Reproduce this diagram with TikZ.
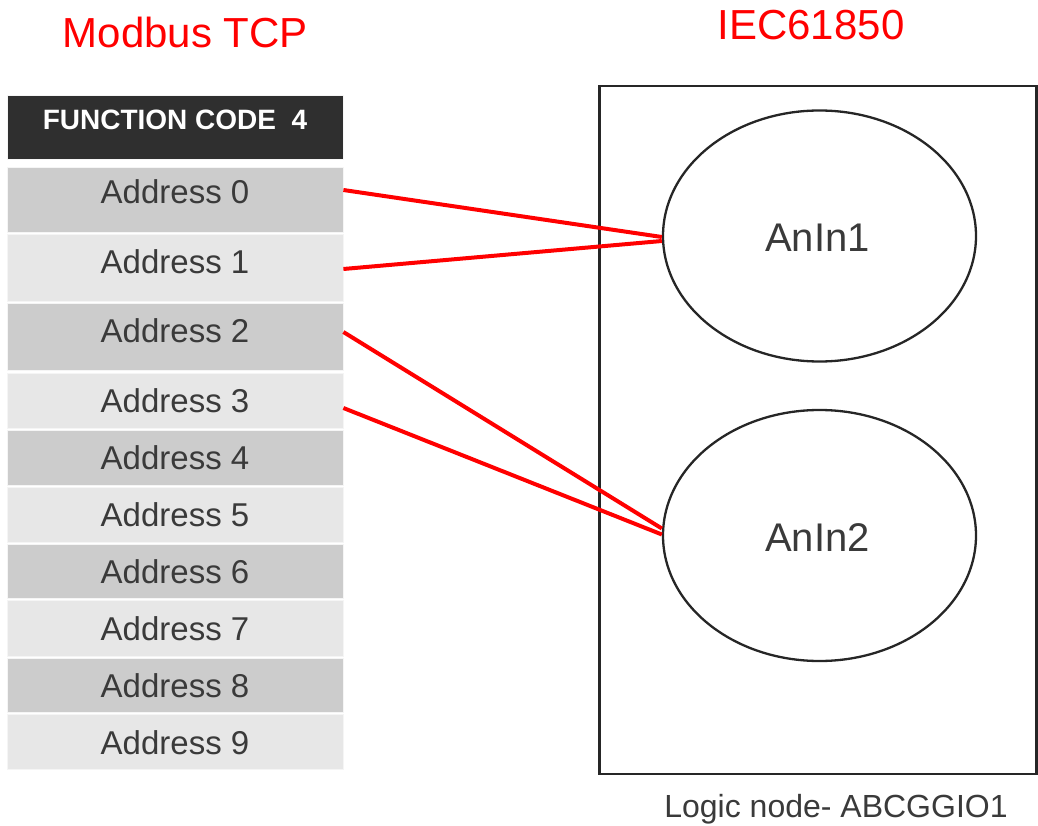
\documentclass[tikz,border=0pt]{standalone}
\usepackage{fontspec}
\setmainfont{Liberation Sans}
\usetikzlibrary{shapes.geometric}
\definecolor{hdr}{HTML}{2F2F2F}
\definecolor{dk}{HTML}{CCCCCC}
\definecolor{lt}{HTML}{E7E7E7}
\definecolor{txt}{HTML}{3A3A3A}
\definecolor{rd}{HTML}{FF0000}
\tikzset{
  rowbox/.style={draw=white!96!black, line width=0.8pt, minimum width=336pt, inner sep=0pt},
  addr/.style={anchor=base, text=txt, font=\fontsize{33}{38}\selectfont, inner sep=0pt},
  title/.style={text=rd, font=\fontsize{42}{48}\selectfont, anchor=base, inner sep=0pt},
  link/.style={draw=rd, line width=4pt},
  ell/.style={ellipse, draw=black!85, line width=2.3pt, minimum width=313pt, minimum height=251pt, inner sep=0pt},
}
\begin{document}
\begin{tikzpicture}[x=1pt,y=-1pt]
\useasboundingbox (0,0) rectangle (1038,826);
% titles
\node[title] (t1) at (185.5,48) {Modbus TCP};
\node[title] (t2) at (811,40) {IEC61850};
% header
\node[rowbox, fill=hdr, minimum height=64pt] (hd) at (175,127) {};
\node[anchor=base, text=white, font=\bfseries\fontsize{28}{32}\selectfont, inner sep=0pt] (hdt) at (175,130) {FUNCTION CODE\ \ 4};
% rows
\node[rowbox, fill=dk, minimum height=65pt] (r0) at (175,199.5) {};
\node[rowbox, fill=lt, minimum height=67pt] (r1) at (175,267.5) {};
\node[rowbox, fill=dk, minimum height=67pt] (r2) at (175,336.5) {};
\node[rowbox, fill=lt, minimum height=55pt] (r3) at (175,400.5) {};
\node[rowbox, fill=dk, minimum height=55pt] (r4) at (175,457.5) {};
\node[rowbox, fill=lt, minimum height=55pt] (r5) at (175,514.5) {};
\node[rowbox, fill=dk, minimum height=54pt] (r6) at (175,571) {};
\node[rowbox, fill=lt, minimum height=56pt] (r7) at (175,628) {};
\node[rowbox, fill=dk, minimum height=54pt] (r8) at (175,685) {};
\node[rowbox, fill=lt, minimum height=55pt] (r9) at (175,741.5) {};
\node[addr] (l0) at (175,203.5) {Address 0};
\node[addr] (l1) at (175,273.5) {Address 1};
\node[addr] (l2) at (175,342.5) {Address 2};
\node[addr] (l3) at (175,412.5) {Address 3};
\node[addr] (l4) at (175,469.5) {Address 4};
\node[addr] (l5) at (175,526.5) {Address 5};
\node[addr] (l6) at (175,583.5) {Address 6};
\node[addr] (l7) at (175,640.5) {Address 7};
\node[addr] (l8) at (175,697.5) {Address 8};
\node[addr] (l9) at (175,754.5) {Address 9};
% logic node box
\node[draw=black!85, line width=2.4pt, minimum width=437pt, minimum height=688pt, inner sep=0pt] (box) at (818,430) {};
\node[anchor=base, text=txt, font=\fontsize{32}{36}\selectfont, inner sep=0pt] (bl) at (836,817) {Logic node- ABCGGIO1};
% ellipses
\node[ell] (e1) at (819.5,236) {};
\node[ell] (e2) at (819.5,535.5) {};
\node[anchor=base, text=txt, font=\fontsize{40}{46}\selectfont, inner sep=0pt] (n1) at (817.5,252) {AnIn1};
\node[anchor=base, text=txt, font=\fontsize{40}{46}\selectfont, inner sep=0pt] (n2) at (817.5,551.5) {AnIn2};
% connectors
\draw[link] ([yshift=9.5pt]r0.east) -- ([yshift=-1pt]e1.west);
\draw[link] ([yshift=-1.5pt]r1.east) -- ([yshift=-5pt]e1.west);
\draw[link] ([yshift=4.5pt]r2.east) -- ([yshift=7pt]e2.west);
\draw[link] ([yshift=-7.5pt]r3.east) -- ([yshift=1pt]e2.west);
\end{tikzpicture}
\end{document}
